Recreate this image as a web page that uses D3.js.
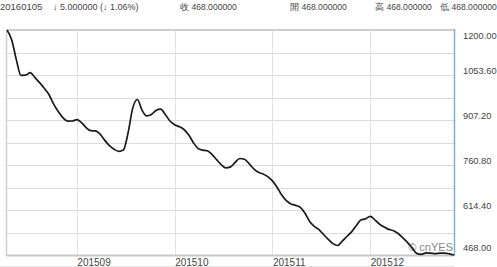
<!DOCTYPE html>
<html><head><meta charset="utf-8">
<script src="https://cdn.jsdelivr.net/npm/d3@7"></script>
<style>html,body{margin:0;padding:0;background:#fff;overflow:hidden}svg{display:block}</style>
</head><body>
<svg id="c" width="497" height="267"></svg>
<script>
const values = [1200,1168.4,1103.7,1052.6,1052.9,1061.1,1045.1,1028.6,1010.7,990.2,
959.9,934.8,914.7,903.6,903.9,908.2,898.4,882.5,872.4,871.7,
861,840.8,823.6,811.9,805.4,809.6,864.9,945.9,973.9,939.1,
920.5,924.8,938.4,942.3,924.8,903.9,891.9,885.4,876.3,859.1,
834.3,815.1,809.3,807,795.6,778.4,762.1,751.4,754.6,769.6,
782,779.3,765.1,748.4,737,731.5,723,709.1,688.3,663.2,
645,634.2,629.4,622.9,603.7,577,561,550.3,534.4,519.1,
505.1,498.9,512.9,528.2,543.1,563.3,581.9,585.4,593.9,582.5,
568.5,558.8,551.3,547,537.9,523.9,509,491.1,473.2,470.3,
474.8,473.9,472.6,473.9,473.9,471.9,468];
const monthLabels = ["201509","201510","201511","201512"];
const monthIndex = [15,36,57,78];
const yTicks = [1200.00,1053.60,907.20,760.80,614.40,468.00];
const header = [
  {t:"20160105", x:0, s:9.5},
  {t:"\u2193 5.000000 (\u2193 1.06%)", x:53, s:9},
  {t:"收 468.000000", x:180, s:8.6},
  {t:"開 468.000000", x:290, s:8.6},
  {t:"高 468.000000", x:375, s:8.6},
  {t:"低 468.000000", x:440, s:8.6}
];

const svg = d3.select("#c");
const L=6.5, R=454, T=30, B=255;
const x = d3.scaleLinear().domain([0, values.length-1]).range([7, 454]);
const y = d3.scaleLinear().domain([468, 1200]).range([B, T]);
const font = "'Liberation Sans', Arial, sans-serif";

// header
svg.selectAll("text.h").data(header).join("text")
  .attr("x", d=>d.x).attr("y", 10)
  .attr("font-family", font).attr("font-size", d=>d.s).attr("fill", "#444")
  .text(d=>d.t);

// horizontal grid
const gridVals = d3.range(0, 11).map(k => 1200 - k*73.2);
svg.selectAll("line.hg").data(gridVals).join("line")
  .attr("x1", L).attr("x2", R)
  .attr("y1", d=>Math.round(y(d))+0.5).attr("y2", d=>Math.round(y(d))+0.5)
  .attr("stroke", "#dcdcdc").attr("stroke-width", 1);

// vertical grid
svg.selectAll("line.vg").data(monthIndex).join("line")
  .attr("x1", d=>Math.round(x(d))+0.5).attr("x2", d=>Math.round(x(d))+0.5)
  .attr("y1", T).attr("y2", B)
  .attr("stroke", "#e2e2e2").attr("stroke-width", 1);

// borders
svg.append("line").attr("x1", L).attr("x2", R).attr("y1", T).attr("y2", T)
  .attr("stroke", "#cfcfcf").attr("stroke-width", 2);
svg.append("line").attr("x1", L).attr("x2", R).attr("y1", B+0.5).attr("y2", B+0.5)
  .attr("stroke", "#c8c8c8").attr("stroke-width", 2);
svg.append("line").attr("x1", L).attr("x2", L).attr("y1", T).attr("y2", B+1)
  .attr("stroke", "#cfcfcf").attr("stroke-width", 1.5);
svg.append("line").attr("x1", R+0.5).attr("x2", R+0.5).attr("y1", T-1).attr("y2", B+1)
  .attr("stroke", "#7fb0d0").attr("stroke-width", 1.5);

// bottom faint line
svg.append("line").attr("x1", 0).attr("x2", R).attr("y1", 266.5).attr("y2", 266.5)
  .attr("stroke", "#e6e6e6").attr("stroke-width", 1);

// x labels
svg.selectAll("text.xl").data(monthIndex).join("text")
  .attr("x", d=>x(d)+0.5).attr("y", 265.5)
  .attr("font-family", font).attr("font-size", 10).attr("fill", "#444")
  .text((d,i)=>monthLabels[i]);

// y labels
svg.selectAll("text.yl").data(yTicks).join("text")
  .attr("x", 463)
  .attr("y", d=>Math.min(251, Math.max(38.5, y(d)-1)))
  .attr("font-family", font).attr("font-size", 9.3).attr("fill", "#444")
  .text(d=>d.toFixed(2));

// watermark
svg.append("text").attr("x", 453).attr("y", 250.5).attr("text-anchor", "end")
  .attr("font-family", font).attr("font-size", 11).attr("fill", "#888")
  .text("© cnYES");

// line
const line = d3.line().x((d,i)=>x(i)).y(d=>y(d)).curve(d3.curveMonotoneX);
svg.append("path").datum(values).attr("d", line)
  .attr("fill", "none").attr("stroke", "#1a1a1a").attr("stroke-width", 1.7)
  .attr("stroke-linejoin", "round");
</script>
</body></html>
